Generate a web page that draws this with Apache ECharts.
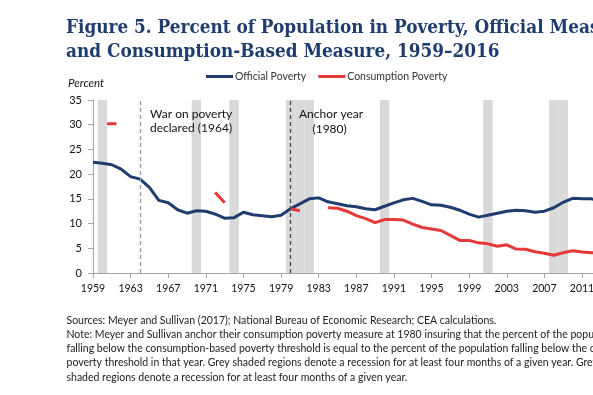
<!DOCTYPE html>
<html><head><meta charset="utf-8">
<script src="https://cdn.jsdelivr.net/npm/echarts@6/dist/echarts.min.js"></script>
<style>html,body{margin:0;padding:0;background:#fff;}#c{width:593px;height:395px;}</style>
</head><body><div id="c"></div>
<script>
const officialYears = [1959,1960,1961,1962,1963,1964,1965,1966,1967,1968,1969,1970,1971,1972,1973,1974,1975,1976,1977,1978,1979,1980,1981,1982,1983,1984,1985,1986,1987,1988,1989,1990,1991,1992,1993,1994,1995,1996,1997,1998,1999,2000,2001,2002,2003,2004,2005,2006,2007,2008,2009,2010,2011,2012,2013,2014,2015,2016];
const officialValues = [22.4,22.2,21.9,21.0,19.5,19.0,17.3,14.7,14.2,12.8,12.1,12.6,12.5,11.9,11.1,11.2,12.3,11.8,11.6,11.4,11.7,13.0,14.0,15.0,15.2,14.4,14.0,13.6,13.4,13.0,12.8,13.5,14.2,14.8,15.1,14.5,13.8,13.7,13.3,12.7,11.9,11.3,11.7,12.1,12.5,12.7,12.6,12.3,12.5,13.2,14.3,15.1,15.0,15.0,14.5,14.8,13.5,12.7];
const consYears = [1960.5,1961.5,1966,1972,1973,1976,1980,1981,1982,1984,1985,1986,1987,1988,1989,1990,1991,1992,1993,1994,1995,1996,1997,1998,1999,2000,2001,2002,2003,2004,2005,2006,2007,2008,2009,2010,2011,2012,2013,2014,2015,2016];
const consValues = [30.2,30.2,null,16.3,14.2,null,13.0,12.6,null,13.2,13.1,12.5,11.6,11.0,10.2,10.8,10.8,10.7,9.9,9.2,8.9,8.6,7.6,6.6,6.6,6.1,5.9,5.4,5.7,4.85,4.8,4.3,4.0,3.6,4.1,4.5,4.25,4.1,4.0,3.9,3.6,3.2];
const recessionYears = [1960,1970,1974,1980,1981,1982,1990,2001,2008,2009];
const tickYears = [1959,1963,1967,1971,1975,1979,1983,1987,1991,1995,1999,2003,2007,2011,2015];
const eventYears = [1964,1980];
const eventColors = ['#9a9a9a','#484848'];
const seriesNames = ['Official Poverty','Consumption Poverty'];

const chart = echarts.init(document.getElementById('c'), null, {renderer:'canvas'});
chart.setOption({
  animation:false,
  title:{
    text:'Figure 5. Percent of Population in Poverty, Official Measure\nand Consumption-Based Measure, 1959\u20132016',
    left:66, top:16.5, padding:0,
    textStyle:{fontFamily:'"DejaVu Serif Condensed", "DejaVu Serif"', fontWeight:'bold', fontSize:18.8, lineHeight:23.5, color:'#1F3C6E'}
  },
  legend:{
    data:seriesNames, left:206, top:71, padding:0,
    itemWidth:27, itemHeight:3, itemGap:12, icon:'rect',
    textStyle:{fontFamily:'Lato', fontSize:10.5, color:'#333', padding:[0,0,0,-3]}
  },
  grid:{left:93, right:-36, top:100, bottom:122, outerBoundsMode:'none', containLabel:false},
  xAxis:{
    type:'value', min:1959, max:2016,
    axisLine:{show:true, lineStyle:{color:'#A6A6A6'}},
    axisTick:{show:true, customValues:tickYears, length:5, lineStyle:{color:'#A6A6A6'}},
    axisLabel:{customValues:tickYears, color:'#111', fontFamily:'Lato', fontSize:10.5, margin:10, formatter:v=>String(v)},
    splitLine:{show:false}
  },
  yAxis:{
    type:'value', min:0, max:35, interval:5,
    axisLine:{show:true, lineStyle:{color:'#A6A6A6'}},
    axisTick:{show:true, length:5, lineStyle:{color:'#A6A6A6'}},
    axisLabel:{color:'#111', fontFamily:'Lato', fontSize:11, margin:11},
    splitLine:{show:false}
  },
  series:[
    {
      type:'line', name:'recession', data:[], silent:true, z:1,
      markArea:{silent:true, itemStyle:{color:'#D9D9D9'},
        data:recessionYears.map(y=>[{xAxis:y-0.5},{xAxis:y+0.5}])},
      markLine:{silent:true, symbol:['none','none'], label:{show:false},
        data:eventYears.map((y,i)=>({xAxis:y, lineStyle:{color:eventColors[i], type:[4,3], width:1.3}}))}
    },
    {
      type:'line', name:seriesNames[0], z:3, symbol:'none',
      data:officialYears.map((y,i)=>[y, officialValues[i]]),
      lineStyle:{color:'#1F3C6E', width:3, join:'round'}, itemStyle:{color:'#1F3C6E'}
    },
    {
      type:'line', name:seriesNames[1], z:3, symbol:'none',
      data:consYears.map((y,i)=>consValues[i]===null ? [y, '-'] : [y, consValues[i]]),
      lineStyle:{color:'#E5383B', width:3, join:'round'}, itemStyle:{color:'#E5383B'}
    }
  ],
  graphic:[
    {type:'text', z:100, left:68, top:77, style:{text:'Percent', font:'italic 11.5px Lato', fill:'#111'}},
    {type:'text', z:100, left:150, top:107, style:{text:'War on poverty\ndeclared (1964)', font:'12px Lato', lineHeight:14.3, fill:'#111'}},
    {type:'text', z:100, left:299, top:108, style:{text:'Anchor year', font:'12px Lato', fill:'#111'}},
    {type:'text', z:100, left:312.5, top:123, style:{text:'(1980)', font:'12px Lato', fill:'#111'}},
    {type:'text', z:100, left:66.5, top:313, style:{
      text:'Sources: Meyer and Sullivan (2017); National Bureau of Economic Research; CEA calculations.\nNote: Meyer and Sullivan anchor their consumption poverty measure at 1980 insuring that the percent of the population\nfalling below the consumption-based poverty threshold is equal to the percent of the population falling below the official\npoverty threshold in that year. Grey shaded regions denote a recession for at least four months of a given year. Grey\nshaded regions denote a recession for at least four months of a given year.',
      font:'10.5px Lato', lineHeight:14.25, fill:'#222'}}
  ]
});
</script></body></html>
